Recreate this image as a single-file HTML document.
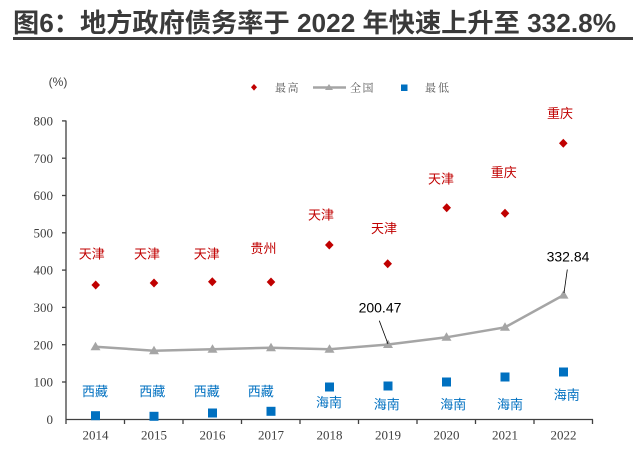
<!DOCTYPE html>
<html><head><meta charset="utf-8"><style>
html,body{margin:0;padding:0;background:#fff;}
body{width:640px;height:461px;overflow:hidden;position:relative;}
svg{position:absolute;left:0;top:0;}
</style></head><body>
<svg width="640" height="461" viewBox="0 0 640 461" xmlns="http://www.w3.org/2000/svg">
<text x="13" y="32" font-family="'Liberation Sans','Noto Sans CJK SC',sans-serif" font-size="26" font-weight="bold" fill="#3a3a3a" textLength="603" lengthAdjust="spacingAndGlyphs">图6：地方政府债务率于 2022 年快速上升至 332.8%</text>
<rect x="13" y="37" width="620" height="3" fill="#404040"/>

<text x="58" y="86" text-anchor="middle" font-family="'Liberation Sans','Noto Sans CJK SC',sans-serif" font-size="12" fill="#404040">(%)</text>

<!-- legend -->
<polygon points="254,84 257,87.3 254,90.6 251,87.3" fill="#c00000"/>
<text x="275" y="91.5" font-family="'Noto Serif CJK SC',serif" font-size="11" fill="#595959" letter-spacing="1.5">最高</text>
<line x1="313" y1="87.5" x2="346" y2="87.5" stroke="#a5a5a5" stroke-width="2.5"/>
<polygon points="329,84 333,90 325,90" fill="#a5a5a5"/>
<text x="350" y="91.5" font-family="'Noto Serif CJK SC',serif" font-size="11" fill="#595959" letter-spacing="1.5">全国</text>
<rect x="401" y="84.5" width="6.5" height="6.5" fill="#0070c0"/>
<text x="425" y="91.5" font-family="'Noto Serif CJK SC',serif" font-size="11" fill="#595959" letter-spacing="2">最低</text>

<!-- axes -->
<g stroke="#404040" stroke-width="1.3" fill="none">
<line x1="66" y1="120.5" x2="66" y2="419.5"/>
<line x1="66" y1="419.5" x2="593" y2="419.5"/>
<line x1="62" y1="120.9" x2="66" y2="120.9"/>
<line x1="62" y1="158.2" x2="66" y2="158.2"/>
<line x1="62" y1="195.5" x2="66" y2="195.5"/>
<line x1="62" y1="232.8" x2="66" y2="232.8"/>
<line x1="62" y1="270.1" x2="66" y2="270.1"/>
<line x1="62" y1="307.4" x2="66" y2="307.4"/>
<line x1="62" y1="344.7" x2="66" y2="344.7"/>
<line x1="62" y1="382" x2="66" y2="382"/>
<line x1="66" y1="419.5" x2="66" y2="424"/>
<line x1="124.5" y1="419.5" x2="124.5" y2="424"/>
<line x1="183" y1="419.5" x2="183" y2="424"/>
<line x1="241.5" y1="419.5" x2="241.5" y2="424"/>
<line x1="300" y1="419.5" x2="300" y2="424"/>
<line x1="358.5" y1="419.5" x2="358.5" y2="424"/>
<line x1="417" y1="419.5" x2="417" y2="424"/>
<line x1="475.5" y1="419.5" x2="475.5" y2="424"/>
<line x1="534" y1="419.5" x2="534" y2="424"/>
<line x1="592.5" y1="419.5" x2="592.5" y2="424"/>
</g>
<g font-family="'Liberation Serif',serif" font-size="13" fill="#404040" text-anchor="end">
<text x="53" y="125.5">800</text>
<text x="53" y="162.8">700</text>
<text x="53" y="200.1">600</text>
<text x="53" y="237.4">500</text>
<text x="53" y="274.7">400</text>
<text x="53" y="312">300</text>
<text x="53" y="349.3">200</text>
<text x="53" y="386.6">100</text>
<text x="53" y="423.9">0</text>
</g>
<g font-family="'Liberation Serif',serif" font-size="13" fill="#404040" text-anchor="middle">
<text x="95.5" y="439.5">2014</text>
<text x="154" y="439.5">2015</text>
<text x="212.5" y="439.5">2016</text>
<text x="271" y="439.5">2017</text>
<text x="329.5" y="439.5">2018</text>
<text x="388" y="439.5">2019</text>
<text x="446.5" y="439.5">2020</text>
<text x="505" y="439.5">2021</text>
<text x="563.5" y="439.5">2022</text>
</g>

<!-- national line -->
<polyline points="95.5,346.7 154,350.7 212.5,349.3 271,347.7 329.5,349.3 388,344.5 446.5,337.3 505,327.3 563.5,295.1" fill="none" stroke="#a5a5a5" stroke-width="2.5"/>
<g fill="#a5a5a5">
<polygon points="95.5,341.7 100.5,350.2 90.5,350.2"/>
<polygon points="154,345.7 159,354.2 149,354.2"/>
<polygon points="212.5,344.3 217.5,352.8 207.5,352.8"/>
<polygon points="271,342.7 276,351.2 266,351.2"/>
<polygon points="329.5,344.3 334.5,352.8 324.5,352.8"/>
<polygon points="388,339.5 393,348 383,348"/>
<polygon points="446.5,332.3 451.5,340.8 441.5,340.8"/>
<polygon points="505,322.3 510,330.8 500,330.8"/>
<polygon points="563.5,290.1 568.5,298.6 558.5,298.6"/>
</g>

<!-- max diamonds -->
<g fill="#c00000">
<polygon points="95.7,280.5 100,285 95.7,289.5 91.4,285"/>
<polygon points="154,278.5 158.3,283 154,287.5 149.7,283"/>
<polygon points="212.3,277.2 216.6,281.7 212.3,286.2 208,281.7"/>
<polygon points="271,277.5 275.3,282 271,286.5 266.7,282"/>
<polygon points="329.3,240.5 333.6,245 329.3,249.5 325,245"/>
<polygon points="387.7,259.2 392,263.7 387.7,268.2 383.4,263.7"/>
<polygon points="446.7,203.2 451,207.7 446.7,212.2 442.4,207.7"/>
<polygon points="505,208.8 509.3,213.3 505,217.8 500.7,213.3"/>
<polygon points="563.3,138.8 567.6,143.3 563.3,147.8 559,143.3"/>
</g>
<g font-family="'Liberation Sans','Noto Sans CJK SC',sans-serif" font-size="13" fill="#c00000" text-anchor="middle">
<text x="91.7" y="258.5">天津</text>
<text x="147" y="258.5">天津</text>
<text x="206.7" y="258.5">天津</text>
<text x="263.5" y="252.8">贵州</text>
<text x="321" y="219.5">天津</text>
<text x="384" y="232.8">天津</text>
<text x="441" y="183.5">天津</text>
<text x="503.7" y="176.8">重庆</text>
<text x="560" y="117.8">重庆</text>
</g>

<!-- min squares -->
<g fill="#0070c0">
<rect x="91" y="411.2" width="9" height="9"/>
<rect x="149.5" y="411.8" width="9" height="9"/>
<rect x="208" y="408.5" width="9" height="9"/>
<rect x="266.5" y="406.8" width="9" height="9"/>
<rect x="325" y="382.5" width="9" height="9"/>
<rect x="383.5" y="381.5" width="9" height="9"/>
<rect x="442" y="377.5" width="9" height="9"/>
<rect x="500.5" y="372.5" width="9" height="9"/>
<rect x="559" y="367.5" width="9" height="9"/>
</g>
<g font-family="'Liberation Sans','Noto Sans CJK SC',sans-serif" font-size="13" fill="#0070c0" text-anchor="middle">
<text x="95" y="396.2">西藏</text>
<text x="152.3" y="396.2">西藏</text>
<text x="206.7" y="396.2">西藏</text>
<text x="260.8" y="396.2">西藏</text>
<text x="329" y="407.2">海南</text>
<text x="386.7" y="408.8">海南</text>
<text x="453.3" y="408.8">海南</text>
<text x="510" y="408.8">海南</text>
<text x="566.7" y="399.5">海南</text>
</g>

<!-- annotations -->
<line x1="379.3" y1="320.7" x2="388" y2="344" stroke="#000" stroke-width="0.8"/>
<text x="380" y="312.3" text-anchor="middle" font-family="'Liberation Sans',sans-serif" font-size="14" fill="#000">200.47</text>
<line x1="567.3" y1="269.5" x2="564" y2="293" stroke="#000" stroke-width="0.8"/>
<text x="568" y="261.7" text-anchor="middle" font-family="'Liberation Sans',sans-serif" font-size="14" fill="#000">332.84</text>
</svg>
</body></html>
